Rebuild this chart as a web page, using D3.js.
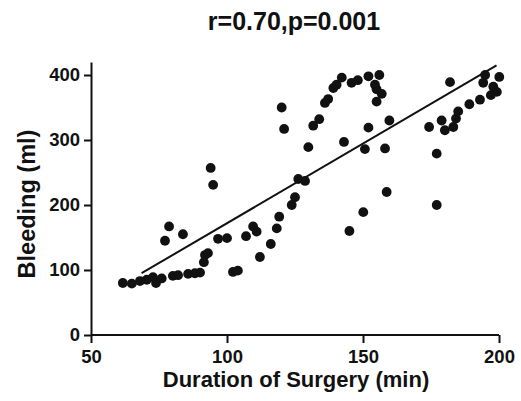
<!DOCTYPE html>
<html>
<head>
<meta charset="utf-8">
<script src="https://cdn.jsdelivr.net/npm/d3@7"></script>
<style>
  body { margin: 0; background: #fff; }
  text { font-family: "Liberation Sans", Arial, sans-serif; font-weight: bold; fill: #111; }
</style>
</head>
<body>
<svg width="521" height="401"></svg>
<script>
// duration of surgery (min) and bleeding (ml)
var duration = [61.7, 65.0, 68.0, 70.5, 72.8, 73.9, 76.0, 80.1, 82.0, 85.7, 88.2, 90.1,
    91.9, 93.0, 91.5, 96.7, 100.0, 102.2, 104.0, 94.0, 94.9, 77.2, 78.7, 83.8,
    107.0, 109.6, 110.9, 112.1, 116.1, 118.3, 119.2, 123.8, 125.0, 126.2, 128.7, 129.9,
    120.1, 121.0, 131.7, 133.9, 136.0, 137.2, 139.1, 140.3, 142.2, 145.8, 148.1, 152.0,
    156.0, 154.4, 155.0, 156.9, 155.0, 143.0, 152.0, 150.7, 158.1, 159.7, 158.7, 150.1,
    145.0, 182.0, 174.3, 178.9, 180.1, 183.2, 184.2, 185.0, 189.1, 193.0, 194.9, 194.2,
    197.9, 200.1, 199.2, 197.0, 177.1, 177.1];
var bleeding = [80, 79, 83, 85, 89, 80, 87, 91, 92, 94, 95, 96,
    123, 126, 112, 148, 149, 97, 99, 257, 231, 145, 167, 155,
    152, 167, 159, 120, 140, 164, 182, 200, 212, 240, 237, 289,
    350, 317, 322, 332, 357, 363, 380, 385, 396, 388, 392, 398,
    400, 385, 378, 371, 359, 297, 319, 286, 287, 330, 220, 189,
    160, 389, 320, 330, 315, 320, 333, 344, 355, 362, 400, 388,
    382, 397, 374, 369, 279, 200];

// linear fit shown on the figure
var fitX = [68.6, 199.1];
var fitSlope = 2.45, fitIntercept = -73;

var xTicks = [50, 100, 150, 200];
var yTicks = [0, 100, 200, 300, 400];

var svg = d3.select("svg");

var x = d3.scaleLinear().domain([50, 200]).range([91, 499]);
var y = d3.scaleLinear().domain([0, 420]).range([335, 62]);

var xAxis = svg.append("g")
    .attr("transform", "translate(0," + y(0) + ")")
    .call(d3.axisBottom(x).tickValues(xTicks).tickSize(8).tickSizeOuter(0).tickPadding(7));
var yAxis = svg.append("g")
    .attr("transform", "translate(" + x(50) + ",0)")
    .call(d3.axisLeft(y).tickValues(yTicks).tickSize(7).tickSizeOuter(0).tickPadding(4));

[xAxis, yAxis].forEach(function (g) {
    g.selectAll("path, line").attr("stroke", "#111").attr("stroke-width", 2);
    g.selectAll("text").style("font-size", "18.5px")
        .style("font-family", "'Liberation Sans', Arial, sans-serif")
        .style("font-weight", "bold").attr("fill", "#111");
});
xAxis.select(".domain").attr("d", "M" + x(50) + ",0H" + x(200));

svg.append("line")
    .attr("x1", x(fitX[0]))
    .attr("y1", y(fitSlope * fitX[0] + fitIntercept))
    .attr("x2", x(fitX[1]))
    .attr("y2", y(fitSlope * fitX[1] + fitIntercept))
    .attr("stroke", "#111")
    .attr("stroke-width", 2);

svg.append("g").selectAll("circle")
    .data(duration)
    .enter().append("circle")
    .attr("cx", function (d) { return x(d); })
    .attr("cy", function (d, i) { return y(bleeding[i]); })
    .attr("r", 4.9)
    .attr("fill", "#111");

svg.append("text")
    .attr("x", 294).attr("y", 30)
    .attr("text-anchor", "middle")
    .style("font-size", "25px")
    .text("r=0.70,p=0.001");

svg.append("text")
    .attr("x", 296).attr("y", 387)
    .attr("text-anchor", "middle")
    .style("font-size", "22px")
    .text("Duration of Surgery (min)");

svg.append("text")
    .attr("transform", "translate(35,204) rotate(-90)")
    .attr("text-anchor", "middle")
    .style("font-size", "23.5px")
    .text("Bleeding (ml)");
</script>
</body>
</html>
